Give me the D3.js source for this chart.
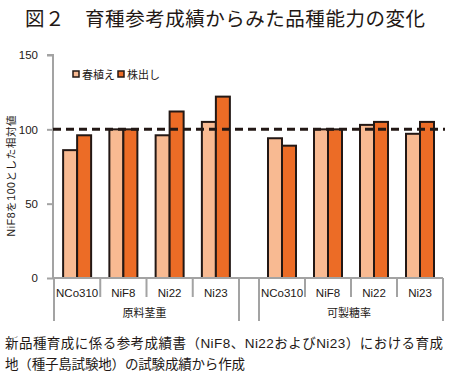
<!DOCTYPE html>
<html><head><meta charset="utf-8">
<script src="https://cdn.jsdelivr.net/npm/d3@7"></script>
<style>
body{margin:0;background:#fff;}
svg{display:block;font-family:"Liberation Sans","Noto Sans CJK JP",sans-serif;}
</style></head>
<body><svg id="c" width="449" height="375"></svg>
<script>
const groups = ["原料茎重", "可製糖率"];
const varieties = ["NCo310", "NiF8", "Ni22", "Ni23"];
const seriesNames = ["春植え", "株出し"];
const springPlant = [[86, 100, 96, 105], [94, 100, 103, 97]];
const ratoon = [[96, 100, 112, 122], [89, 100, 105, 105]];
const yTicks = [0, 50, 100, 150];
const refValue = 100;

const colors = ["#F8BA92", "#EC6C26"];
const ink = "#231815";
const axisGray = "#a3a3a3";

const svg = d3.select("#c");
const y = d3.scaleLinear().domain([0, 150]).range([278, 55]);
const groupX = d3.scaleOrdinal().domain(groups).range([[54, 239], [259, 443]]);
const x0 = 53, x1 = 443;

// title
svg.append("text").attr("x", 25).attr("y", 26)
  .attr("font-size", 19.5).attr("fill", ink)
  .attr("textLength", 400).attr("lengthAdjust", "spacing")
  .text("図２　育種参考成績からみた品種能力の変化");

// y axis
const yAxis = d3.axisLeft(y).tickValues(yTicks).tickSize(6).tickPadding(9);
const gy = svg.append("g").attr("transform", `translate(${x0},0)`).call(yAxis);
gy.select(".domain").attr("stroke", axisGray).attr("stroke-width", 2).attr("d", `M-6,${y(150)}H0V${y(0)}`);
gy.selectAll(".tick line").attr("stroke", axisGray).attr("stroke-width", 2);
gy.selectAll(".tick text").attr("font-size", 11.5).attr("fill", ink);

svg.append("text").attr("transform", `translate(15,${176}) rotate(-90)`)
  .attr("text-anchor","middle").attr("font-size", 10.5).attr("fill", ink)
  .attr("textLength", 121).attr("lengthAdjust", "spacing")
  .text("NiF8を100とした相対値");

// bars
const barW = 14;
groups.forEach((g, gi) => {
  const band = d3.scaleBand().domain(varieties).range(groupX(g));
  const sub = d3.scaleBand().domain([0,1]).range([0, barW*2]);
  const data = varieties.map((v, i) => [springPlant[gi][i], ratoon[gi][i]]);
  varieties.forEach((v, i) => {
    const cx = band(v) + band.bandwidth()/2;
    [0,1].forEach(s => {
      const val = data[i][s];
      svg.append("rect")
        .attr("x", cx - barW + sub(s)).attr("y", y(val))
        .attr("width", barW).attr("height", y(0) - y(val))
        .attr("fill", colors[s]).attr("stroke", ink).attr("stroke-width", 2);
    });
  });
  const gx = svg.append("g");
  varieties.forEach((v, i) => {
    gx.append("text").attr("x", band(v) + band.bandwidth()/2).attr("y", 297)
      .attr("text-anchor","middle").attr("font-size", 11.5).attr("fill", ink).text(v);
    if (i > 0) gx.append("line").attr("x1", band(v)).attr("x2", band(v)).attr("y1", 278).attr("y2", 297)
      .attr("stroke", axisGray).attr("stroke-width", 2);
  });
  const [a, b] = groupX(g);
  [a, b].forEach(xx => gx.append("line").attr("x1", xx).attr("x2", xx).attr("y1", 278).attr("y2", 321)
      .attr("stroke", axisGray).attr("stroke-width", 2));
  gx.append("text").attr("x", (a + b)/2 - 2).attr("y", 317)
    .attr("text-anchor","middle").attr("font-size", 11).attr("fill", ink).text(g);
});

// x axis line
svg.append("line").attr("x1", x0).attr("x2", x1).attr("y1", y(0)).attr("y2", y(0))
  .attr("stroke", axisGray).attr("stroke-width", 2);

// reference dashed line
svg.append("line").attr("x1", x0).attr("x2", x1 + 2).attr("y1", y(refValue)).attr("y2", y(refValue))
  .attr("stroke", ink).attr("stroke-width", 3).attr("stroke-dasharray", "8,5");

// legend
const lg = svg.append("g").attr("transform", "translate(73,75)");
seriesNames.forEach((n, i) => {
  const gx = i * 45;
  lg.append("rect").attr("x", gx).attr("y", -4).attr("width", 6).attr("height", 6)
    .attr("fill", colors[i]).attr("stroke", ink).attr("stroke-width", 1.5);
  lg.append("text").attr("x", gx + 9).attr("y", 3.5).attr("font-size", 11)
    .attr("fill", ink).text(n);
});

// footnote
svg.append("text").attr("x", 5).attr("y", 348).attr("font-size", 13.5).attr("fill", ink)
  .attr("textLength", 438).attr("lengthAdjust", "spacing")
  .text("新品種育成に係る参考成績書（NiF8、Ni22およびNi23）における育成");
svg.append("text").attr("x", 5).attr("y", 369).attr("font-size", 13.5).attr("fill", ink)
  .attr("textLength", 240).attr("lengthAdjust", "spacing")
  .text("地（種子島試験地）の試験成績から作成");
</script></body></html>
